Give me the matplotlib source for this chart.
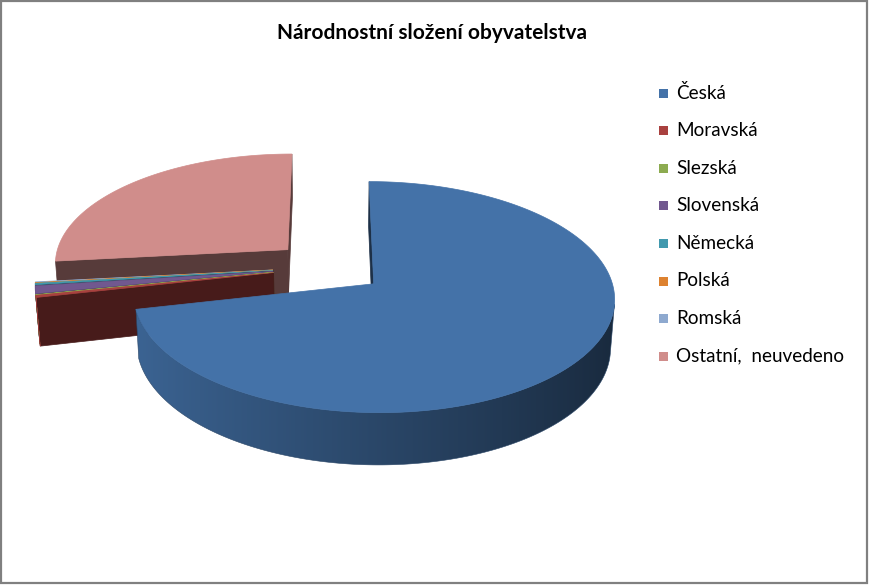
import numpy as np
import matplotlib.pyplot as plt
from matplotlib.patches import Polygon, Rectangle
from matplotlib.colors import to_rgb

# chart data (shares in %)
title = 'Národnostní složení obyvatelstva'
labels = ['Česká', 'Moravská', 'Slezská', 'Slovenská', 'Německá', 'Polská',
          'Romská', 'Ostatní,  neuvedeno']
shares = [71.5, 0.3, 0.05, 1.1, 0.2, 0.05, 0.1, 26.7]
colors = ['#4472A8', '#A9413F', '#8CAB50', '#71588F', '#4199AE', '#DD8230',
          '#8EA9CF', '#D08D8B']

FONT = ['Lato', 'DejaVu Sans']

# canvas in pixels
W, H = 869, 585

# 3d view of the pie
CX, CY = 329, 267
FOC, DIST = 1830, 7.8
TILT = np.radians(28)
THICK = 0.233
EXPLODE = 0.24

cosT, sinT = np.cos(TILT), np.sin(TILT)
cam = np.array([0.0, -DIST * cosT, DIST * sinT])


def proj(p):
    x, y, z = p
    d = DIST + y * cosT - z * sinT
    return (CX + FOC * x / d, CY - FOC * (y * sinT + z * cosT) / d)


def depth(pts):
    return np.mean([DIST + y * cosT - z * sinT for x, y, z in pts])


def seen(normal, pts):
    p = np.mean(np.array(pts), axis=0)
    return np.dot(normal, cam - p) > 0


def side_shade(t):
    return np.clip(0.62 - 0.26 * np.sin(t), 0, 1)


fig = plt.figure(figsize=(W / 100, H / 100), dpi=100)
ax = fig.add_axes([0, 0, 1, 1])

walls, tops = [], []
bounds = np.cumsum([0] + shares) / sum(shares) * 2 * np.pi
for i, col in enumerate(colors):
    t0, t1 = bounds[i], bounds[i + 1]
    mid = (t0 + t1) / 2
    ox, oy = EXPLODE * np.sin(mid), EXPLODE * np.cos(mid)
    rgb = np.array(to_rgb(col))

    def rim(t, z):
        return (ox + np.sin(t), oy + np.cos(t), z)

    c_top, c_bot = (ox, oy, 0.0), (ox, oy, -THICK)
    n = max(2, int(2 * np.degrees(t1 - t0)))
    ts = np.linspace(t0, t1, n + 1)

    face = [c_top] + [rim(t, 0.0) for t in ts]
    tops.append((depth(face), 'flat', face, rgb))

    # curved outer side (front part only), drawn as one gradient piece
    vis = [seen((np.sin((a + b) / 2), np.cos((a + b) / 2), 0.0),
                [rim(a, 0.0), rim(b, 0.0), rim(b, -THICK), rim(a, -THICK)])
           for a, b in zip(ts[:-1], ts[1:])]
    idx = np.nonzero(vis)[0]
    if len(idx):
        tv = ts[idx[0]:idx[-1] + 2]
        outline = [rim(t, 0.0) for t in tv] + [rim(t, -THICK) for t in tv[::-1]]
        walls.append((depth(outline), 'grad', outline, (tv, rgb)))

    # flat cut sides
    for t, sgn in ((t0, -1), (t1, 1)):
        nrm = (sgn * np.cos(t), -sgn * np.sin(t), 0.0)
        quad = [c_top, rim(t, 0.0), rim(t, -THICK), c_bot]
        if seen(nrm, quad):
            walls.append((depth(quad), 'flat', quad, rgb * 0.42))

# painter's order: sides first, then top faces, far to near
z = 1.0
for group in (walls, tops):
    for d, kind, pts, info in sorted(group, key=lambda g: -g[0]):
        xy = np.array([proj(p) for p in pts])
        if kind == 'flat':
            ax.add_patch(Polygon(xy, closed=True, facecolor=info, edgecolor=info,
                                 lw=0.5, zorder=z))
        else:
            tv, rgb = info
            sx = xy[:len(tv), 0]
            order = np.argsort(sx)
            cols = np.arange(np.floor(sx.min()), np.ceil(sx.max()) + 1)
            shade = np.interp(cols, sx[order], side_shade(tv)[order])
            img = np.clip(rgb[None, :] * shade[:, None], 0, 1)[None, :, :]
            clip = Polygon(xy, closed=True, transform=ax.transData)
            im = ax.imshow(img, extent=(cols[0], cols[-1] + 1, xy[:, 1].max() + 1,
                                        xy[:, 1].min() - 1),
                           aspect='auto', interpolation='bilinear', zorder=z)
            im.set_clip_path(clip)
            ax.add_patch(Polygon(xy, closed=True, fill=False, lw=0.4, zorder=z,
                                 edgecolor=rgb * side_shade(tv).mean()))
        z += 0.01

ax.set_xlim(0, W)
ax.set_ylim(H, 0)
ax.axis('off')

# title
ax.text(432, 33, title, ha='center', va='center', fontsize=15,
        fontweight='bold', family=FONT, zorder=50)

# legend
for i, (lab, col) in enumerate(zip(labels, colors)):
    y = 93 + i * 37.6
    ax.add_patch(Rectangle((659, y - 4.5), 9, 9, facecolor=col, edgecolor='none',
                           zorder=50))
    ax.text(676, y, lab, ha='left', va='center', fontsize=13.6, family=FONT,
            zorder=50)

# chart border
ax.add_patch(Rectangle((1, 1), W - 3, H - 3, fill=False, edgecolor='#808080',
                       lw=1.6, zorder=60))

fig.savefig('out.png', dpi=100)
